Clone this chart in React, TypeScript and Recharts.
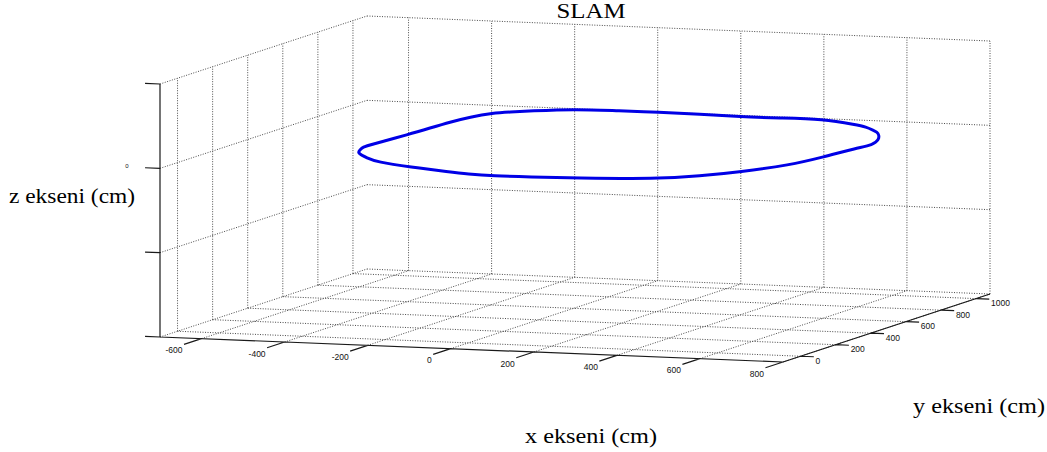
import { ComposedChart, Line, Scatter, XAxis, YAxis } from "recharts";

const W = 1047;
const H = 452;

// axis limits (cm)
const X_LIM = [-700, 800];
const Y_LIM = [-100, 1080];
const Z_LIM = [-2, 1];

const X_TICKS = [-600, -400, -200, 0, 200, 400, 600, 800];
const Y_TICKS = [0, 200, 400, 600, 800, 1000];
const Z_TICKS = [-2, -1, 0, 1];
const Z_TICK_LABELS = ["", "", "0", ""];

// SLAM trajectory (cm), flat at z = 0, closed loop
const PATH_X = [
  -377, -323, -276, -172, -54, -4, 65, 150, 254, 436, 509, 568, 630, 649, 663, 677,
  655, 625, 601, 579, 545, 512, 400, 300, 209, 104, 0, -87, -197, -281, -317, -347,
  -370, -380, -384, -388, -402, -404, -391,
];
const PATH_Y = [
  259, 188, 133, 76, 23, 3, -10, -4, 8, 43, 116, 203, 342, 487, 647, 703,
  790, 862, 907, 935, 977, 1003, 1074, 1062, 1056, 1075, 1080, 1072, 1075, 1016, 988, 962,
  886, 796, 691, 586, 391, 356, 308,
];
const PATH_Z = 0;

// where the axes box sits on the page (parallel projection of the 3-D view)
const BOX = { left: 160, bottom: 337, xVec: [623, 25], yVec: [207, -68], zHeight: 253 };

const GRID = "#4a4a4a";
const AXIS = "#1a1a1a";
const SERIF = "'Liberation Serif', 'Times New Roman', serif";
const SANS = "'Liberation Sans', Arial, sans-serif";

type Pt = { sx: number; sy: number | null; label?: string };
type P3 = [number, number, number];

function project(x: number, y: number, z: number): Pt {
  const u = (x - X_LIM[0]) / (X_LIM[1] - X_LIM[0]);
  const v = (y - Y_LIM[0]) / (Y_LIM[1] - Y_LIM[0]);
  const w = (z - Z_LIM[0]) / (Z_LIM[1] - Z_LIM[0]);
  return {
    sx: BOX.left + BOX.xVec[0] * u + BOX.yVec[0] * v,
    sy: BOX.bottom + BOX.xVec[1] * u + BOX.yVec[1] * v - BOX.zHeight * w,
  };
}

// list of 3-D segments -> one polyline broken by null gaps
function segments(pairs: [P3, P3][]): Pt[] {
  const out: Pt[] = [];
  pairs.forEach(([a, b]) => {
    const p = project(...a);
    const q = project(...b);
    out.push(p, q, { sx: q.sx, sy: null });
  });
  return out;
}

const [X0, X1] = X_LIM;
const [Y0, Y1] = Y_LIM;
const [Z0, Z1] = Z_LIM;

const gridData = segments([
  // floor
  ...X_TICKS.map((x) => [[x, Y0, Z0], [x, Y1, Z0]] as [P3, P3]),
  ...Y_TICKS.map((y) => [[X0, y, Z0], [X1, y, Z0]] as [P3, P3]),
  // back wall (y = max)
  ...X_TICKS.map((x) => [[x, Y1, Z0], [x, Y1, Z1]] as [P3, P3]),
  ...Z_TICKS.map((z) => [[X0, Y1, z], [X1, Y1, z]] as [P3, P3]),
  // left wall (x = min)
  ...Y_TICKS.map((y) => [[X0, y, Z0], [X0, y, Z1]] as [P3, P3]),
  ...Z_TICKS.map((z) => [[X0, Y0, z], [X0, Y1, z]] as [P3, P3]),
]);

const axisData = segments([
  [[X0, Y0, Z0], [X0, Y0, Z1]],
  [[X0, Y0, Z0], [X1, Y0, Z0]],
  [[X1, Y0, Z0], [X1, Y1, Z0]],
  // tick marks
  ...X_TICKS.map((x) => [[x, Y0, Z0], [x, Y0 - 100, Z0]] as [P3, P3]),
  ...Y_TICKS.map((y) => [[X1, y, Z0], [X1 + 32, y, Z0]] as [P3, P3]),
  ...Z_TICKS.map((z) => [[X0, Y0, z], [X0 - 36, Y0, z]] as [P3, P3]),
]);

const pathData: Pt[] = PATH_X.map((x, i) => project(x, PATH_Y[i], PATH_Z));

const xLabelData = X_TICKS.map((x) => ({ ...project(x, Y0, Z0), label: String(x) }));
const yLabelData = Y_TICKS.map((y) => ({ ...project(X1, y, Z0), label: String(y) }));
const zLabelData = Z_TICKS.map((z, i) => ({ ...project(X0, Y0, z), label: Z_TICK_LABELS[i] }));

const tickText =
  (anchor: "start" | "middle" | "end", dx: number, dy: number, size = 8.5) =>
  (props: any) => {
    const { cx, cy, payload } = props;
    return (
      <text
        x={cx + dx}
        y={cy + dy}
        textAnchor={anchor}
        dominantBaseline="central"
        fontSize={size}
        fontFamily={SANS}
        fill="#111"
      >
        {payload.label}
      </text>
    );
  };

export default function App() {
  return (
    <div style={{ position: "absolute", left: 0, top: 0, width: W, height: H, background: "#fff" }}>
      <ComposedChart width={W} height={H} margin={{ top: 0, right: 0, bottom: 0, left: 0 }}>
        <XAxis type="number" dataKey="sx" domain={[0, W]} hide allowDataOverflow />
        <YAxis type="number" dataKey="sy" domain={[0, H]} reversed hide allowDataOverflow />
        <Line
          data={gridData}
          dataKey="sy"
          type="linear"
          stroke={GRID}
          strokeWidth={1}
          strokeDasharray="1 1.5"
          dot={false}
          activeDot={false}
          isAnimationActive={false}
        />
        <Line
          data={axisData}
          dataKey="sy"
          type="linear"
          stroke={AXIS}
          strokeWidth={1.2}
          dot={false}
          activeDot={false}
          isAnimationActive={false}
        />
        <Line
          data={pathData}
          dataKey="sy"
          type="basisClosed"
          stroke="#0000e6"
          strokeWidth={3}
          strokeLinejoin="round"
          dot={false}
          activeDot={false}
          isAnimationActive={false}
        />
        <Scatter data={xLabelData} dataKey="sy" shape={tickText("end", -19, 11.5)} isAnimationActive={false} />
        <Scatter data={yLabelData} dataKey="sy" shape={tickText("start", 15, 4.5)} isAnimationActive={false} />
        <Scatter data={zLabelData} dataKey="sy" shape={tickText("middle", -33, -2, 6)} isAnimationActive={false} />
        <text x={591} y={18} textAnchor="middle" fontSize={20} fontFamily={SERIF} textLength={69} lengthAdjust="spacingAndGlyphs">
          SLAM
        </text>
        <text x={591} y={443} textAnchor="middle" fontSize={22} fontFamily={SERIF} textLength={132} lengthAdjust="spacingAndGlyphs">
          x ekseni (cm)
        </text>
        <text x={979} y={413} textAnchor="middle" fontSize={22} fontFamily={SERIF} textLength={132} lengthAdjust="spacingAndGlyphs">
          y ekseni (cm)
        </text>
        <text x={72} y={203} textAnchor="middle" fontSize={22} fontFamily={SERIF} textLength={126} lengthAdjust="spacingAndGlyphs">
          z ekseni (cm)
        </text>
      </ComposedChart>
    </div>
  );
}
